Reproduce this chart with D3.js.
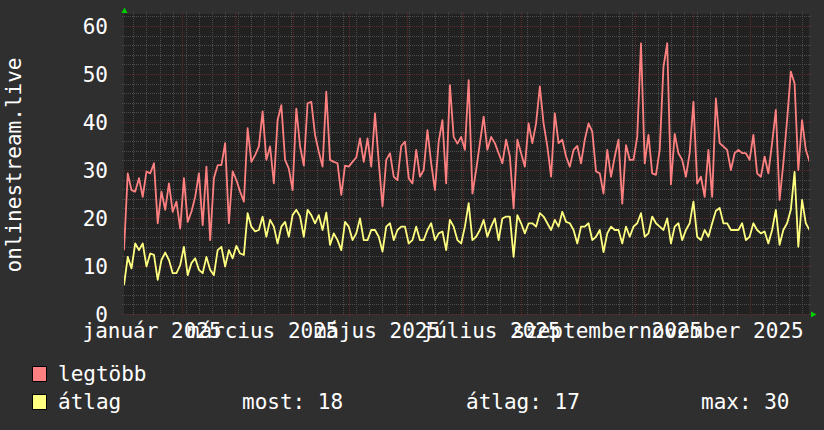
<!DOCTYPE html>
<html><head><meta charset="utf-8">
<script src="https://cdn.jsdelivr.net/npm/d3@7"></script>
<style>html,body{margin:0;padding:0;background:#2f2f2f;}svg{display:block;}</style>
</head><body>
<script>
// ---- data ----
const startDate = "2025-01-01";
const stepDays = 2;
const maxVals = [13.3,29.3,25.8,25.5,28.3,24.4,29.7,29.3,31.4,18.9,25.5,21.7,27.2,21.3,23.4,17.8,28.3,19.2,21.3,24.4,
29.3,18.5,30.7,15.4,28.3,31.0,31.0,35.6,18.9,29.7,27.9,25.5,23.4,38.7,31.7,33.1,34.9,42.2,32.1,34.9,
27.2,40.4,43.5,32.1,30.3,25.8,42.8,34.9,30.9,43.9,44.2,37.3,33.8,30.7,46.3,32.1,31.7,31.4,24.8,30.9,
30.7,31.7,32.6,36.6,31.7,36.6,30.7,41.8,31.7,22.4,32.1,33.5,28.6,27.9,35.0,35.9,28.3,27.2,34.2,28.6,
30.0,38.3,31.4,25.8,35.9,40.4,27.2,47.7,36.9,35.5,36.9,34.2,48.7,25.1,30.0,35.6,41.1,34.2,36.9,35.6,
33.5,31.4,36.3,32.8,22.0,36.3,33.5,30.7,39.7,35.6,39.7,47.4,39.7,34.9,28.6,41.8,35.6,36.3,32.8,30.7,
34.2,35.0,31.4,36.3,39.7,38.0,29.7,29.3,25.1,34.2,28.6,32.8,36.3,23.0,35.2,32.1,32.1,36.9,56.4,31.4,
37.3,29.3,29.0,34.2,51.5,56.4,27.0,37.5,33.5,32.1,28.6,33.5,44.2,27.2,28.6,24.4,34.2,24.4,44.9,35.6,
34.9,34.2,30.0,33.5,34.2,33.5,33.5,32.1,37.3,29.3,28.6,32.8,29.3,35.6,42.5,23.75,31.4,40.4,50.5,48.0,
30.0,40.4,34.2,31.7];
const avgVals = [6.0,11.9,9.5,14.7,13.3,14.7,9.9,12.6,12.3,7.1,11.25,12.8,11.25,8.5,8.5,10.2,14.0,8.1,10.6,11.6,
9.2,8.5,11.9,9.2,8.1,13.3,14.0,9.9,13.3,11.6,14.2,12.6,12.3,21.0,18.2,17.2,17.5,20.3,16.1,19.6,
18.2,14.7,18.2,19.2,16.1,20.6,21.7,20.3,16.1,21.7,20.6,18.9,20.6,17.5,21.1,14.4,16.8,15.4,13.3,19.2,
18.2,15.4,16.8,19.9,15.4,15.4,17.5,17.5,16.1,13.0,18.2,18.9,15.4,17.5,18.2,18.2,14.7,15.4,18.2,15.4,
15.4,17.5,18.9,15.4,16.8,17.2,13.3,19.6,18.2,15.4,14.7,18.2,23.1,15.4,16.1,17.5,19.6,16.1,18.2,19.9,
15.4,19.9,20.3,20.3,11.9,20.6,18.9,16.8,18.9,18.9,18.2,21.0,20.3,18.9,17.5,19.6,18.2,21.3,19.2,18.9,
17.5,14.7,18.2,18.2,18.9,15.4,16.1,17.5,12.9,16.8,18.2,17.5,17.5,14.7,18.2,16.1,18.2,18.9,21.0,16.1,
16.8,20.3,18.9,18.2,17.5,19.9,14.7,18.2,18.9,15.4,17.5,18.9,23.4,16.1,15.4,17.5,16.1,18.9,21.5,22.1,
18.9,18.9,17.5,17.5,17.5,18.9,15.4,16.1,18.9,17.5,16.8,17.2,14.7,17.5,21.7,14.4,17.5,18.9,21.7,29.6,
14.0,23.75,18.9,17.5];
const yTicks = [0,10,20,30,40,50,60];
const monthNames = ["január","február","március","április","május","június","július","augusztus","szeptember","október","november","december"];
const labelMonths = [0,2,4,6,8,10];
const labelYear = 2025;
const seriesNames = ["legtöbb","átlag"];
const seriesColors = ["#ff8080","#ffff80"];
const statLabels = ["most: 18","átlag: 17","max: 30"];
const yTitle = "onlinestream.live";

// ---- layout ----
const W = 824, H = 430;
const L = 124, R = 809, T = 14, B = 314;
const font = "'DejaVu Sans Mono', monospace";
const DAY = 86400000;
const t0 = new Date(startDate + "T00:00:00Z");
const t1 = new Date(+t0 + 365.7 * DAY);

const svg = d3.select("body").append("svg").attr("width", W).attr("height", H);
svg.append("rect").attr("width", W).attr("height", H).attr("fill", "#2f2f2f");
svg.append("rect").attr("x", L).attr("y", T).attr("width", R - L).attr("height", B - T).attr("fill", "#212121");

const x = d3.scaleUtc().domain([t0, t1]).range([L, R]);
const y = d3.scaleLinear().domain([0, 62.5]).range([B, T]);

const minorCol = "#4d4d4d", majorCol = "#5f2c2c";
const grid = svg.append("g").attr("shape-rendering", "crispEdges");
// minor horizontal
d3.range(0, 63, 2).filter(v => v % 10 !== 0).forEach(v => {
  grid.append("line").attr("x1", L - 2).attr("x2", R + 2).attr("y1", Math.round(y(v)) + 0.5).attr("y2", Math.round(y(v)) + 0.5)
    .attr("stroke", minorCol).attr("stroke-dasharray", "1,1");
});
// minor vertical (weeks, Monday)
d3.utcMonday.range(t0, new Date(+t1 - DAY)).forEach(d => {
  const xx = Math.round(x(d)) + 0.5;
  grid.append("line").attr("x1", xx).attr("x2", xx).attr("y1", T - 2).attr("y2", B + 2)
    .attr("stroke", minorCol).attr("stroke-dasharray", "1,1");
});
// major horizontal
yTicks.forEach(v => {
  grid.append("line").attr("x1", L - 2).attr("x2", R + 2).attr("y1", Math.round(y(v)) + 0.5).attr("y2", Math.round(y(v)) + 0.5)
    .attr("stroke", majorCol).attr("stroke-dasharray", "1,1");
});
// major vertical (months)
d3.utcMonth.range(new Date(+t0 + DAY), new Date(+t1 - DAY)).forEach(d => {
  const xx = Math.round(x(d)) + 0.5;
  grid.append("line").attr("x1", xx).attr("x2", xx).attr("y1", T - 2).attr("y2", B + 3)
    .attr("stroke", majorCol).attr("stroke-dasharray", "1,1");
});

// series
svg.append("clipPath").attr("id", "c").append("rect").attr("x", L).attr("y", T - 5).attr("width", R - L).attr("height", B - T + 5);
const dates = maxVals.map((_, i) => new Date(+t0 + i * stepDays * DAY));
const line = d3.line().x((d, i) => x(dates[i])).y(d => y(d)).curve(d3.curveLinear);
[maxVals, avgVals].forEach((vals, si) => {
  svg.append("path").attr("d", line(vals)).attr("fill", "none").attr("stroke", seriesColors[si])
    .attr("stroke-width", 1.8).attr("stroke-linejoin", "round").attr("clip-path", "url(#c)");
});

// arrows
svg.append("path").attr("d", d3.line()([[121.5,13],[127.5,13],[124.5,7.5]]) + "Z").attr("fill", "#00d000");
svg.append("path").attr("d", d3.line()([[811,311.5],[811,317.5],[816.5,314.5]]) + "Z").attr("fill", "#00d000");

// y labels
svg.append("g").selectAll("text").data(yTicks).join("text")
  .attr("x", 108).attr("y", d => y(d) + 7.5).attr("text-anchor", "end")
  .attr("fill", "#ffffff").attr("font-family", font).attr("font-size", 21).text(d => d);

// x labels: centered on month start + 15 days
labelMonths.forEach(m => {
  const d = new Date(Date.UTC(labelYear, m, 1));
  svg.append("text").attr("x", x(new Date(+d + 15 * DAY))).attr("y", 338).attr("text-anchor", "middle")
    .attr("fill", "#ffffff").attr("font-family", font).attr("font-size", 21)
    .text(monthNames[m] + " " + labelYear);
});

// y title
svg.append("text").attr("transform", "translate(21,165) rotate(-90)").attr("text-anchor", "middle")
  .attr("fill", "#ffffff").attr("font-family", font).attr("font-size", 21).text(yTitle);

// legend
seriesNames.forEach((n, i) => {
  const yy = 366 + i * 28;
  svg.append("rect").attr("x", 32.5).attr("y", yy + 0.5).attr("width", 14).attr("height", 15)
    .attr("fill", seriesColors[i]).attr("stroke", "#000").attr("stroke-width", 1);
  svg.append("text").attr("x", 58).attr("y", yy + 15).attr("fill", "#ffffff")
    .attr("font-family", font).attr("font-size", 21).text(n);
});
const statX = [242, 466, 701];
statLabels.forEach((s, i) => {
  svg.append("text").attr("x", statX[i]).attr("y", 394 + 15).attr("fill", "#ffffff")
    .attr("font-family", font).attr("font-size", 21).text(s);
});
</script>
</body></html>
